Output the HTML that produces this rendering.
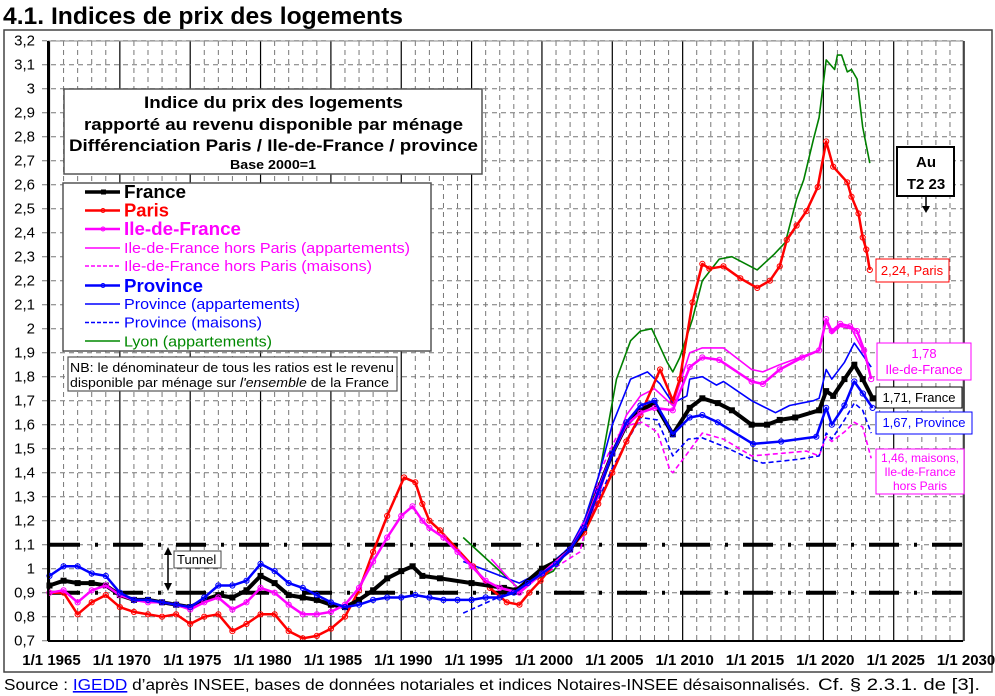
<!DOCTYPE html>
<html><head><meta charset="utf-8">
<style>
body{margin:0;background:#fff;width:995px;height:696px;overflow:hidden;font-family:"Liberation Sans",Arial,sans-serif;}
svg{position:absolute;left:0;top:0;}
</style></head>
<body>
<svg id="chart" width="995" height="696" viewBox="0 0 995 696" xmlns="http://www.w3.org/2000/svg" font-family="Liberation Sans, Arial, sans-serif">
<text x="3" y="24" font-size="24" font-weight="bold" fill="#000" textLength="400" lengthAdjust="spacingAndGlyphs">4.1. Indices de prix des logements</text>
<rect x="4" y="30" width="988" height="642" fill="none" stroke="#444" stroke-width="1.5"/>
<g id="grid"></g>
<g id="ticks"></g>
<g id="series"></g>
<rect x="48" y="41" width="915" height="600" fill="none" stroke="#888" stroke-width="1"/>
<line x1="48" y1="41" x2="48" y2="641" stroke="#000" stroke-width="2"/>
<line x1="48" y1="641" x2="963" y2="641" stroke="#000" stroke-width="2"/>

<g>
<rect x="64" y="89" width="418" height="85" fill="#fff" stroke="#555" stroke-width="1.5"/>
<text x="144" y="108" font-size="17" font-weight="bold" textLength="259" lengthAdjust="spacingAndGlyphs">Indice du prix des logements</text>
<text x="84" y="130" font-size="17" font-weight="bold" textLength="379" lengthAdjust="spacingAndGlyphs">rapporté au revenu disponible par ménage</text>
<text x="69" y="151" font-size="17" font-weight="bold" textLength="409" lengthAdjust="spacingAndGlyphs">Différenciation Paris / Ile-de-France / province</text>
<text x="230" y="169" font-size="13" font-weight="bold" textLength="86" lengthAdjust="spacingAndGlyphs">Base 2000=1</text>
</g>

<g>
<rect x="63" y="183" width="368" height="168" fill="#fff" stroke="#555" stroke-width="1.5"/>
<g><line x1="85" y1="192" x2="120" y2="192" stroke="#000" stroke-width="3.5"/><rect x="101" y="189.5" width="5" height="5" fill="#000"/><text x="124" y="198" font-size="18" font-weight="bold" fill="#000" textLength="62" lengthAdjust="spacingAndGlyphs">France</text></g>
<g><line x1="85" y1="210.5" x2="120" y2="210.5" stroke="#f00" stroke-width="2.5"/><circle cx="103" cy="210.5" r="2" fill="none" stroke="#f00"/><text x="124" y="216.5" font-size="18" font-weight="bold" fill="#f00" textLength="45" lengthAdjust="spacingAndGlyphs">Paris</text></g>
<g><line x1="85" y1="229" x2="120" y2="229" stroke="#f0f" stroke-width="2.5"/><circle cx="103" cy="229" r="2" fill="none" stroke="#f0f"/><text x="124" y="235" font-size="18" font-weight="bold" fill="#f0f" textLength="117" lengthAdjust="spacingAndGlyphs">Ile-de-France</text></g>
<g><line x1="85" y1="248" x2="120" y2="248" stroke="#f0f" stroke-width="1.5"/><text x="124" y="253" font-size="15" fill="#f0f" textLength="286" lengthAdjust="spacingAndGlyphs">Ile-de-France hors Paris (appartements)</text></g>
<g><line x1="85" y1="266" x2="120" y2="266" stroke="#f0f" stroke-width="1.5" stroke-dasharray="4,2"/><text x="124" y="271" font-size="15" fill="#f0f" textLength="248" lengthAdjust="spacingAndGlyphs">Ile-de-France hors Paris (maisons)</text></g>
<g><line x1="85" y1="285.5" x2="120" y2="285.5" stroke="#00f" stroke-width="2.5"/><circle cx="103" cy="285.5" r="2" fill="none" stroke="#00f"/><text x="124" y="292" font-size="18" font-weight="bold" fill="#00f" textLength="79" lengthAdjust="spacingAndGlyphs">Province</text></g>
<g><line x1="85" y1="304" x2="120" y2="304" stroke="#00f" stroke-width="1.5"/><text x="124" y="309" font-size="15" fill="#00f" textLength="176" lengthAdjust="spacingAndGlyphs">Province (appartements)</text></g>
<g><line x1="85" y1="322.5" x2="120" y2="322.5" stroke="#00f" stroke-width="1.5" stroke-dasharray="4,2"/><text x="124" y="327.5" font-size="15" fill="#00f" textLength="138" lengthAdjust="spacingAndGlyphs">Province (maisons)</text></g>
<g><line x1="85" y1="341" x2="120" y2="341" stroke="#080" stroke-width="1.5"/><text x="124" y="346.5" font-size="15" fill="#080" textLength="148" lengthAdjust="spacingAndGlyphs">Lyon (appartements)</text></g>
</g>

<g>
<rect x="68" y="357" width="329" height="34" fill="#fff" stroke="#555" stroke-width="1.2"/>
<text x="70" y="372" font-size="13" textLength="324" lengthAdjust="spacingAndGlyphs">NB: le dénominateur de tous les ratios est le revenu</text>
<text x="70" y="387" font-size="13" textLength="319" lengthAdjust="spacingAndGlyphs">disponible par ménage sur <tspan font-style="italic">l'ensemble</tspan> de la France</text>
</g>

<g>
<line x1="168" y1="552" x2="168" y2="586" stroke="#000" stroke-width="1.5"/>
<polygon points="168,547 164,555 172,555" fill="#000"/>
<polygon points="168,591 164,583 172,583" fill="#000"/>
<rect x="174" y="551" width="47" height="17" fill="#fff" stroke="#444"/>
<text x="177" y="564" font-size="13">Tunnel</text>
</g>

<g>
<rect x="897" y="147" width="57" height="49" fill="#fff" stroke="#000" stroke-width="2"/>
<text x="926" y="167" font-size="15" font-weight="bold" text-anchor="middle">Au</text>
<text x="926" y="189" font-size="15" font-weight="bold" text-anchor="middle">T2 23</text>
<line x1="926" y1="196" x2="926" y2="208" stroke="#000" stroke-width="1.5"/>
<polygon points="926,213 922,206 930,206" fill="#000"/>
</g>
<g><rect x="876" y="259" width="73" height="23" fill="#fff" stroke="#f00"/><text x="912" y="275" font-size="13" fill="#f00" text-anchor="middle">2,24, Paris</text></g>
<g><rect x="877" y="343" width="94" height="37" fill="#fff" stroke="#f0f"/><text x="924" y="358" font-size="13" fill="#f0f" text-anchor="middle">1,78</text><text x="924" y="374" font-size="13" fill="#f0f" text-anchor="middle">Ile-de-France</text></g>
<g><rect x="876" y="387" width="86" height="21" fill="#fff" stroke="#000"/><text x="919" y="402" font-size="13" fill="#000" text-anchor="middle">1,71, France</text></g>
<g><rect x="876" y="412" width="96" height="22" fill="#fff" stroke="#00f"/><text x="924" y="427" font-size="13" fill="#00f" text-anchor="middle">1,67, Province</text></g>
<g><rect x="876" y="449" width="88" height="45" fill="#fff" stroke="#f0f"/><text x="920" y="462" font-size="12" fill="#f0f" text-anchor="middle">1,46, maisons,</text><text x="920" y="476" font-size="12" fill="#f0f" text-anchor="middle">Ile-de-France</text><text x="920" y="490" font-size="12" fill="#f0f" text-anchor="middle">hors Paris</text></g>

<text x="4" y="690" font-size="16" textLength="806" lengthAdjust="spacingAndGlyphs">Source : <tspan fill="#00f" text-decoration="underline">IGEDD</tspan> d’après INSEE, bases de données notariales et indices Notaires-INSEE désaisonnalisés.</text>
<text x="818" y="690" font-size="17" textLength="162" lengthAdjust="spacingAndGlyphs">Cf. § 2.3.1. de [3].</text>
</svg>
<script>
const yTicks=[0.7,0.8,0.9,1,1.1,1.2,1.3,1.4,1.5,1.6,1.7,1.8,1.9,2,2.1,2.2,2.3,2.4,2.5,2.6,2.7,2.8,2.9,3,3.1,3.2];
const yTickLabels=["0,7","0,8","0,9","1","1,1","1,2","1,3","1,4","1,5","1,6","1,7","1,8","1,9","2","2,1","2,2","2,3","2,4","2,5","2,6","2,7","2,8","2,9","3","3,1","3,2"];
const xTicks=[1965,1970,1975,1980,1985,1990,1995,2000,2005,2010,2015,2020,2025,2030];
const xTickLabels=["1/1 1965","1/1 1970","1/1 1975","1/1 1980","1/1 1985","1/1 1990","1/1 1995","1/1 2000","1/1 2005","1/1 2010","1/1 2015","1/1 2020","1/1 2025","1/1 2030"];
const tunnelLevels=[1.1,0.9];

const franceYears=[1965,1966,1967,1968,1969,1970,1971,1972,1973,1974,1975,1976,1977,1978,1979,1980,1981,1982,1983,1984,1985,1986,1987,1988,1989,1990,1990.8,1991.5,1992.75,1995,1997.3,1998.2,2000,2001,2002,2003,2004,2005,2006,2007,2008,2009.3,2010.5,2011.4,2012.5,2013.5,2014.9,2016,2016.9,2018,2019.7,2020.2,2020.7,2021.5,2022.2,2022.8,2023.5];
const franceValues=[0.93,0.95,0.94,0.94,0.93,0.89,0.87,0.87,0.86,0.85,0.84,0.87,0.89,0.88,0.91,0.97,0.94,0.89,0.88,0.87,0.85,0.84,0.87,0.91,0.96,0.99,1.01,0.97,0.96,0.94,0.92,0.91,1.0,1.03,1.08,1.17,1.33,1.48,1.60,1.66,1.69,1.56,1.67,1.71,1.69,1.66,1.60,1.60,1.62,1.63,1.66,1.74,1.72,1.79,1.85,1.79,1.71];

const parisYears=[1965,1966,1967,1968,1969,1970,1971,1972,1973,1974,1975,1976,1977,1978,1979,1980,1981,1982,1983,1984,1985,1986,1987,1988,1989,1990.2,1991,1991.5,1992,1992.75,1995.1,1996.3,1997.5,1998.4,1999.1,1999.9,2001,2002,2003,2004,2005,2006,2007,2008.4,2009.3,2009.8,2010.7,2011.4,2011.9,2012.9,2014.1,2015.3,2016.2,2016.9,2017.4,2018.1,2018.8,2019.6,2020.2,2020.7,2021.7,2022,2022.5,2022.8,2023.05,2023.3];
const parisValues=[0.90,0.90,0.81,0.86,0.89,0.84,0.82,0.81,0.80,0.81,0.77,0.80,0.81,0.74,0.77,0.81,0.81,0.74,0.71,0.72,0.75,0.80,0.91,1.07,1.22,1.38,1.36,1.27,1.20,1.16,1.01,0.92,0.86,0.85,0.90,0.95,1.03,1.08,1.15,1.27,1.40,1.53,1.64,1.83,1.70,1.79,2.11,2.27,2.25,2.26,2.21,2.17,2.20,2.26,2.37,2.43,2.49,2.59,2.78,2.675,2.61,2.55,2.48,2.38,2.33,2.245];

const idfYears=[1965,1966,1967,1968,1969,1970,1971,1972,1973,1974,1975,1976,1977,1978,1979,1980,1981,1982,1983,1984,1985,1986,1987,1988,1989,1990,1990.8,1991.5,1992,1993,1994,1995,1996,1997,1998.4,2000,2002,2003,2004,2005,2006,2007,2008,2009.3,2010.5,2011.4,2012.6,2014.9,2015.7,2016.9,2018.5,2019.7,2020.2,2020.6,2021.2,2021.9,2022.4,2022.9,2023.4];
const idfValues=[0.90,0.91,0.86,0.91,0.93,0.89,0.87,0.86,0.86,0.85,0.83,0.86,0.88,0.83,0.86,0.92,0.90,0.85,0.81,0.81,0.82,0.85,0.92,1.03,1.13,1.22,1.26,1.20,1.17,1.13,1.07,1.01,0.95,0.92,0.90,0.98,1.08,1.18,1.33,1.48,1.60,1.65,1.67,1.66,1.84,1.88,1.87,1.78,1.77,1.83,1.88,1.91,2.04,1.99,2.02,2.01,1.99,1.91,1.79];

const idfApYears=[1996.4,1998.4,2000,2002,2003,2004,2005,2006,2007,2008,2009.3,2010.5,2011.4,2012.9,2014.9,2015.7,2016.9,2019.7,2020.2,2020.6,2021.2,2022,2022.9,2023.4];
const idfApValues=[1.04,0.91,0.98,1.07,1.16,1.30,1.48,1.64,1.72,1.75,1.68,1.90,1.92,1.92,1.83,1.82,1.85,1.91,2.03,1.98,2.01,2.00,1.90,1.79];

const idfMaYears=[2000,2002.7,2004.1,2005.3,2006.3,2007.1,2008.2,2009.1,2009.3,2010.2,2011.4,2012.9,2014.9,2016.9,2018.8,2019.7,2020.2,2020.6,2021.5,2022.2,2022.8,2023.4];
const idfMaValues=[0.97,1.07,1.40,1.55,1.60,1.61,1.57,1.41,1.40,1.47,1.565,1.54,1.47,1.48,1.49,1.47,1.55,1.53,1.57,1.61,1.59,1.46];

const provYears=[1965,1966,1967,1968,1969,1970,1971,1972,1973,1974,1975,1976,1977,1978,1979,1980,1981,1982,1983,1984,1985,1986,1987,1988,1989,1990,1991,1992,1993,1994,1995,1996,1997,1998,1999,2000,2001,2002,2003,2004,2005,2006,2007,2008,2009.3,2010.5,2011.4,2012.5,2015,2017,2019.5,2020.2,2020.6,2021.5,2022.2,2022.8,2023.5];
const provValues=[0.97,1.01,1.01,0.98,0.97,0.90,0.87,0.87,0.86,0.85,0.84,0.88,0.93,0.93,0.95,1.02,0.99,0.94,0.92,0.89,0.86,0.84,0.85,0.87,0.88,0.88,0.89,0.88,0.87,0.87,0.87,0.88,0.88,0.90,0.94,0.98,1.02,1.08,1.17,1.32,1.48,1.61,1.68,1.70,1.56,1.63,1.64,1.61,1.52,1.53,1.55,1.67,1.60,1.68,1.78,1.73,1.67];

const provApYears=[1994.4,1998.4,2000,2002,2003,2004,2005,2006.3,2007.5,2008.4,2009.3,2010.3,2010.5,2011.4,2012.4,2012.9,2014.9,2016.6,2017.6,2019.3,2019.7,2020.2,2020.6,2021.5,2022.2,2022.8,2023.4];
const provApValues=[1.03,0.94,0.99,1.09,1.20,1.38,1.60,1.79,1.82,1.77,1.69,1.72,1.79,1.80,1.765,1.78,1.70,1.65,1.68,1.70,1.71,1.83,1.79,1.86,1.94,1.89,1.84];

const provMaYears=[1994.4,1998.4,2000,2003,2005,2007,2008.2,2009.3,2010.4,2011.4,2012.9,2014.9,2015.7,2018.1,2019.7,2020.2,2020.6,2021.5,2022.2,2022.8,2023.4];
const provMaValues=[0.815,0.92,0.98,1.15,1.42,1.63,1.62,1.47,1.54,1.545,1.51,1.455,1.44,1.455,1.47,1.565,1.54,1.62,1.69,1.66,1.565];

const lyonYears=[1994.4,1998.3,2000.8,2002.9,2004.1,2005.3,2006.3,2007,2007.8,2008.9,2009.3,2009.8,2010.7,2011.4,2012.6,2013.5,2015.3,2016.5,2017.3,2018.1,2018.6,2019.3,2019.7,2020.2,2020.8,2021,2021.3,2021.7,2022,2022.4,2022.8,2023.3];
const lyonValues=[1.13,0.92,0.99,1.16,1.40,1.79,1.95,1.99,2.00,1.86,1.82,1.88,2.04,2.20,2.29,2.30,2.245,2.31,2.36,2.54,2.62,2.79,2.88,3.12,3.08,3.14,3.14,3.07,3.08,3.04,2.84,2.69];

const X0=49.5, PXY=14.07, Y0=640.7, PXV=240;
function xScale(yr){return X0+(yr-1965)*PXY;}
function yScale(v){return Y0-(v-0.7)*PXV;}
const NS="http://www.w3.org/2000/svg";
function mk(tag,attrs,parent){const e=document.createElementNS(NS,tag);for(const k in attrs)e.setAttribute(k,attrs[k]);parent.appendChild(e);return e;}

const grid=document.getElementById('grid'), ticks=document.getElementById('ticks'), ser=document.getElementById('series');
for(let y=1965;y<=2030;y++){
  const x=xScale(y); const major=(y%5===0);
  const l=mk('line',{x1:x,y1:41,x2:x,y2:641,stroke:major?'#000':'#777','stroke-width':major?1.2:1,'stroke-dasharray':major?'none':'5,4'},grid);
  
  
}
yTicks.forEach((v,i)=>{
  const y=yScale(v);
  const l=mk('line',{x1:42,y1:y,x2:963,y2:y,stroke:'#777','stroke-width':1,'stroke-dasharray':'5,4'},grid);
  
  
  const t=mk('text',{x:35,y:y+5,'font-size':15,'text-anchor':'end',fill:'#000'},ticks);
  t.textContent=yTickLabels[i];
  
  
});
xTicks.forEach((v,i)=>{
  const t=mk('text',{x:xScale(v)+2,y:665,'font-size':15,'font-weight':'bold','text-anchor':'middle',fill:'#000'},ticks);
  t.textContent=xTickLabels[i];
  
  
});
tunnelLevels.forEach(v=>{
  const l=mk('line',{x1:50,y1:yScale(v),x2:963,y2:yScale(v),stroke:'#000','stroke-width':4,'stroke-dasharray':'30,15,3,15'},grid);
  
  
});

function drawSeries(name,xs,vs,color,width,dash,marker){
  const g=mk('g',{},ser);
  
  
  const pts=xs.map((x,i)=>xScale(x).toFixed(1)+','+yScale(vs[i]).toFixed(1)).join(' ');
  const p=mk('polyline',{points:pts,fill:'none',stroke:color,'stroke-width':width,'stroke-linejoin':'round','stroke-dasharray':dash||'none'},g);
  
  
  if(marker){
    xs.forEach((x,i)=>{
      let m;
      if(marker==='square') m=mk('rect',{x:xScale(x)-3,y:yScale(vs[i])-3,width:6,height:6,fill:color},g);
      else m=mk('circle',{cx:xScale(x),cy:yScale(vs[i]),r:2.6,fill:'none',stroke:color,'stroke-width':1},g);
      
      
    });
  }
}
drawSeries('lyon-series',lyonYears,lyonValues,'#008000',1.6,null,null);
drawSeries('idf-maisons-series',idfMaYears,idfMaValues,'#ff00ff',1.6,'5,3',null);
drawSeries('province-maisons-series',provMaYears,provMaValues,'#0000ff',1.6,'5,3',null);
drawSeries('province-appart-series',provApYears,provApValues,'#0000ff',1.6,null,null);
drawSeries('idf-appart-series',idfApYears,idfApValues,'#ff00ff',1.6,null,null);
drawSeries('paris-series',parisYears,parisValues,'#ff0000',2.5,null,'circle');
drawSeries('france-series',franceYears,franceValues,'#000000',4,null,'square');
drawSeries('idf-series',idfYears,idfValues,'#ff00ff',2.5,null,'circle');
drawSeries('province-series',provYears,provValues,'#0000ff',2.5,null,'circle');
</script>
</body></html>
